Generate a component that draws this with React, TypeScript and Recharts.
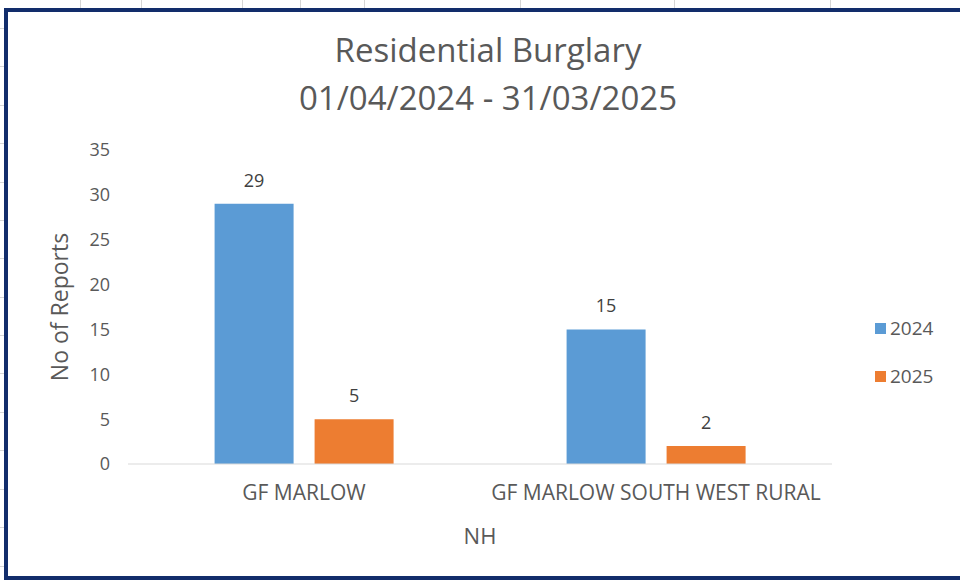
import { BarChart, Bar, XAxis, YAxis, LabelList, Label } from 'recharts'

const categorias = ['GF MARLOW', 'GF MARLOW SOUTH WEST RURAL']
const valores2024 = [29, 15]
const valores2025 = [5, 2]
const yTicks = [0, 5, 10, 15, 20, 25, 30, 35]
const titulo = ['Residential Burglary', '01/04/2024 - 31/03/2025']
const series = [
  { chave: 'a2024', nome: '2024', cor: '#5b9bd5' },
  { chave: 'a2025', nome: '2025', cor: '#ed7d31' },
]

const FONT = '"Open Sans", sans-serif'
const TEXTO = '#595959'

// linhas da planilha que aparecem fora da moldura
const gradeTopo = [80, 141, 242, 300, 364, 520, 674, 830]
const gradeEsq = [28, 66, 105, 143, 182, 220, 258, 297, 335, 373, 412, 450, 489, 527, 566]

export default function App() {
  const data = categorias.map((c, i) => ({ nome: c, a2024: valores2024[i], a2025: valores2025[i] }))

  return (
    <div style={{ position: 'absolute', left: 0, top: 0, width: 960, height: 581, overflow: 'hidden', background: 'white' }}>
      {gradeTopo.map((x) => (
        <div key={x} style={{ position: 'absolute', left: x, top: 0, width: 1, height: 9, background: '#d6d6d6' }} />
      ))}
      {gradeEsq.map((y) => (
        <div key={y} style={{ position: 'absolute', left: 0, top: y, width: 4, height: 1, background: '#d6d6d6' }} />
      ))}
      <div style={{ position: 'absolute', left: 4, top: 8, width: 1000, height: 572, border: '4px solid #122d6b', boxSizing: 'border-box' }} />

      <div style={{ position: 'absolute', left: 0, top: 26, width: 976, textAlign: 'center', fontFamily: FONT, fontSize: 33, lineHeight: '48px', color: TEXTO }}>
        {titulo.map((t) => <div key={t}>{t}</div>)}
      </div>

      {/* legenda à direita */}
      <div style={{ position: 'absolute', left: 875, top: 304, fontFamily: FONT, fontSize: 19, color: TEXTO }}>
        {series.map((s) => (
          <div key={s.nome} style={{ display: 'flex', alignItems: 'center', height: 48 }}>
            <span style={{ width: 11, height: 11, background: s.cor, marginRight: 4, display: 'inline-block' }} />
            <span>{s.nome}</span>
          </div>
        ))}
      </div>

      <div style={{ position: 'absolute', left: 0, top: 0 }}>
        <BarChart width={960} height={581} data={data} margin={{ top: 150, right: 128, bottom: 57, left: 58 }} barGap={21} barCategoryGap="24.6%">
          <XAxis
            dataKey="nome"
            axisLine={{ stroke: '#d9d9d9' }}
            tickLine={false}
            tickSize={0}
            tickMargin={21}
            tick={{ fill: TEXTO, fontSize: 21, fontFamily: FONT }}
            height={60}
          >
            <Label value="NH" position="insideBottom" offset={-20} fill={TEXTO} fontSize={22} fontFamily={FONT} />
          </XAxis>
          <YAxis
            domain={[0, 35]}
            ticks={yTicks}
            axisLine={false}
            tickLine={false}
            tickSize={0}
            tickMargin={18}
            width={70}
            tick={{ fill: TEXTO, fontSize: 18, fontFamily: FONT }}
          >
            <Label value="No of Reports" angle={-90} position="insideLeft" offset={2} fill={TEXTO} fontSize={23} fontFamily={FONT} style={{ textAnchor: 'middle' }} />
          </YAxis>
          {series.map((s) => (
            <Bar key={s.chave} dataKey={s.chave} name={s.nome} fill={s.cor} isAnimationActive={false}>
              <LabelList dataKey={s.chave} position="top" offset={17} fill="#404040" fontSize={18} fontFamily={FONT} />
            </Bar>
          ))}
        </BarChart>
      </div>
    </div>
  )
}
